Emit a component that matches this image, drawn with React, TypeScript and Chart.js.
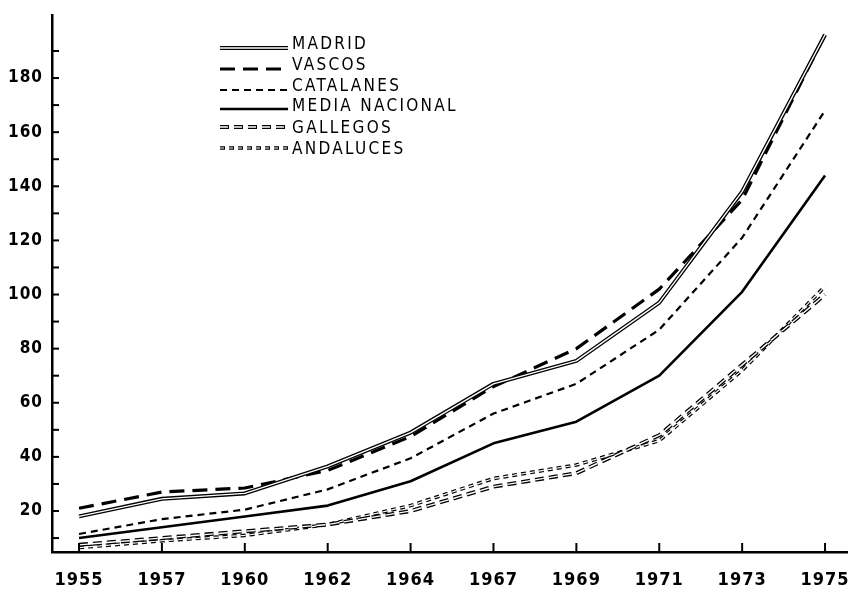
import React, { useEffect, useRef } from "react";
import { Chart, registerables } from "chart.js";

Chart.register(...registerables);

const years = ["1955", "1957", "1960", "1962", "1964", "1967", "1969", "1971", "1973", "1975"];
const yTickValues = [10, 20, 30, 40, 50, 60, 70, 80, 90, 100, 110, 120, 130, 140, 150, 160, 170, 180, 190];
const yLabelValues = [20, 40, 60, 80, 100, 120, 140, 160, 180];
const seriesNames = ["MADRID", "VASCOS", "CATALANES", "MEDIA NACIONAL", "GALLEGOS", "ANDALUCES"];

const madrid = [18, 24.5, 26.5, 36.5, 49, 67, 75.5, 97, 138, 196];
const vascos = [21, 27, 28.5, 35, 47.5, 66, 80, 102, 135, 196];
const catalanes = [11.5, 17, 20.5, 28, 39.5, 56, 67, 87, 121, 168];
const mediaNacional = [10, 14, 18, 22, 31, 45, 53, 70, 101, 144];
const gallegos = [7.5, 10, 12.5, 15, 20, 29, 34, 48, 74, 100];
const andaluces = [6.5, 9, 11, 15, 22, 32, 37, 46, 72, 103];

const seriesValues = [madrid, vascos, catalanes, mediaNacional, gallegos, andaluces];

const FONT = "'DejaVu Sans Condensed', 'Liberation Sans Narrow', 'DejaVu Sans', sans-serif";

type LineStyle = { width: number; dash: number[]; inner: number };
const lineStyles: LineStyle[] = [
  { width: 4, dash: [], inner: 1.4 },
  { width: 3.2, dash: [15, 8], inner: 0 },
  { width: 2.2, dash: [7, 5], inner: 0 },
  { width: 2.6, dash: [], inner: 0 },
  { width: 4, dash: [9, 5], inner: 1.4 },
  { width: 3.6, dash: [5, 4], inner: 1.2 },
];

const legendLineY = [48, 69, 90, 109, 127, 148];
const legendTextY = [49, 70, 91, 111, 133, 154];

const zeroPad = (s: any) => {
  s.paddingLeft = 0;
  s.paddingRight = 0;
  s.paddingTop = 0;
  s.paddingBottom = 0;
};

const inwardTicks = {
  id: "inwardTicks",
  afterDraw(chart: any) {
    const { ctx, chartArea, scales } = chart;
    ctx.save();
    ctx.strokeStyle = "#000";
    ctx.lineWidth = 2;
    ctx.setLineDash([]);
    yTickValues.forEach((v) => {
      const y = scales.y.getPixelForValue(v);
      ctx.beginPath();
      ctx.moveTo(chartArea.left, y);
      ctx.lineTo(chartArea.left + 7, y);
      ctx.stroke();
    });
    years.forEach((_, i) => {
      const x = scales.x.getPixelForValue(i);
      ctx.beginPath();
      ctx.moveTo(x, chartArea.bottom);
      ctx.lineTo(x, chartArea.bottom - 9);
      ctx.stroke();
    });
    ctx.restore();
  },
};

const customLegend = {
  id: "customLegend",
  afterDraw(chart: any) {
    const { ctx } = chart;
    ctx.save();
    seriesNames.forEach((name, k) => {
      const st = lineStyles[k];
      const y = legendLineY[k];
      const x1 = 220;
      const x2 = 288;
      ctx.beginPath();
      ctx.setLineDash(st.dash);
      ctx.lineDashOffset = 0;
      ctx.lineWidth = st.width;
      ctx.strokeStyle = "#000";
      ctx.lineCap = "butt";
      ctx.moveTo(x1, y);
      ctx.lineTo(x2, y);
      ctx.stroke();
      if (st.inner > 0) {
        ctx.beginPath();
        ctx.lineWidth = st.inner;
        ctx.strokeStyle = "#fff";
        ctx.moveTo(x1 - 1, y);
        ctx.lineTo(x2 + 1, y);
        ctx.stroke();
      }
      ctx.setLineDash([]);
      ctx.fillStyle = "#000";
      ctx.font = `17px ${FONT}`;
      (ctx as any).letterSpacing = "2.3px";
      ctx.textAlign = "left";
      ctx.textBaseline = "alphabetic";
      ctx.fillText(name, 292, legendTextY[k]);
    });
    ctx.restore();
  },
};

const spacing = {
  id: "spacing",
  beforeDraw(chart: any) {
    (chart.ctx as any).letterSpacing = "1px";
  },
};

export default function App() {
  const ref = useRef<HTMLCanvasElement | null>(null);

  useEffect(() => {
    document.body.style.margin = "0";
    const canvas = ref.current;
    if (!canvas) return;

    const datasets: any[] = [];
    seriesValues.forEach((vals, k) => {
      const st = lineStyles[k];
      const pts = vals.map((v, i) => ({ x: i, y: v }));
      datasets.push({
        label: seriesNames[k],
        data: pts,
        borderColor: "#000",
        borderWidth: st.width,
        borderDash: st.dash,
        borderCapStyle: "butt",
        borderJoinStyle: "round",
        pointRadius: 0,
        tension: 0,
        fill: false,
        order: 2 * k + 1,
      });
      if (st.inner > 0) {
        datasets.push({
          label: seriesNames[k] + " inner",
          data: pts,
          borderColor: "#fff",
          borderWidth: st.inner,
          borderDash: st.dash,
          borderCapStyle: "butt",
          borderJoinStyle: "round",
          pointRadius: 0,
          tension: 0,
          fill: false,
          order: 2 * k,
        });
      }
    });

    const chart = new Chart(canvas, {
      type: "line",
      data: { datasets },
      options: {
        responsive: false,
        animation: false,
        events: [],
        layout: { padding: { top: 15, right: 0, left: 0, bottom: 0 } },
        plugins: {
          legend: { display: false },
          tooltip: { enabled: false },
        },
        scales: {
          x: {
            type: "linear",
            min: -0.326,
            max: 9.277,
            afterBuildTicks: (s: any) => {
              s.ticks = years.map((_, i) => ({ value: i }));
            },
            afterFit: (s: any) => {
              s.height = 44;
              zeroPad(s);
            },
            grid: { display: false, drawTicks: false },
            border: { display: true, color: "#000", width: 2.5 },
            ticks: {
              autoSkip: false,
              maxRotation: 0,
              padding: 18,
              color: "#000",
              font: { family: FONT, size: 18, weight: "bold" },
              callback: (v: any) => years[v] ?? "",
            },
          },
          y: {
            type: "linear",
            min: 4.85,
            max: 203.3,
            afterBuildTicks: (s: any) => {
              s.ticks = yTickValues.map((v) => ({ value: v }));
            },
            afterFit: (s: any) => {
              s.width = 52;
              zeroPad(s);
            },
            grid: { display: false, drawTicks: false },
            border: { display: true, color: "#000", width: 2.5 },
            ticks: {
              autoSkip: false,
              padding: 9,
              color: "#000",
              font: { family: FONT, size: 17, weight: "bold" },
              callback: (v: any) => (yLabelValues.includes(v) ? String(v) : ""),
            },
          },
        },
      } as any,
      plugins: [spacing, inwardTicks, customLegend],
    });

    return () => chart.destroy();
  }, []);

  return (
    <div style={{ position: "absolute", left: 0, top: 0, width: 848, height: 596, background: "#fff" }}>
      <canvas ref={ref} width={848} height={596} style={{ display: "block" }} />
    </div>
  );
}
